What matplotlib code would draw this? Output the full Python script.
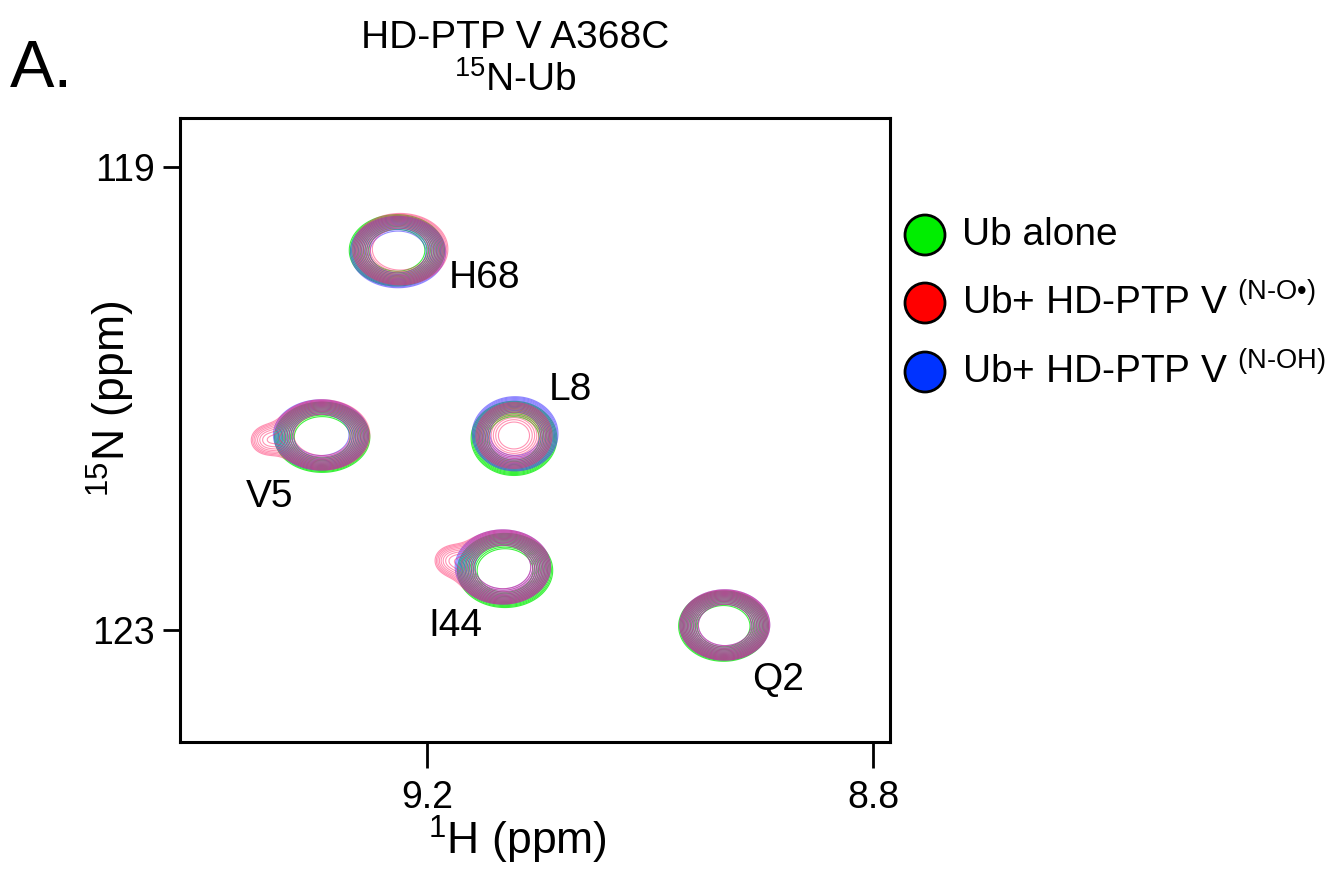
import numpy as np
import matplotlib
matplotlib.use("Agg")
from matplotlib import pyplot as plt
from matplotlib.patches import Circle

plt.rcParams['font.family'] = ['Liberation Sans', 'DejaVu Sans']
plt.rcParams['mathtext.fontset'] = 'custom'
plt.rcParams['mathtext.rm'] = 'Liberation Sans'
plt.rcParams['mathtext.it'] = 'Liberation Sans:italic'
plt.rcParams['mathtext.bf'] = 'Liberation Sans:bold'

# peak positions (1H ppm, 15N ppm)
peak_names = ['Q2', 'V5', 'L8', 'I44', 'H68']
peak_h = [8.933, 9.294, 9.121, 9.132, 9.224]
peak_n = [122.957, 121.315, 121.32, 122.456, 119.72]
width_h = [0.0170, 0.0180, 0.0162, 0.0180, 0.0180]
width_n = [0.128, 0.128, 0.135, 0.135, 0.130]

# small per-spectrum shifts and intensities
green_dh = [0.001, 0.000, 0.001, -0.002, 0.003]
green_dn = [0.010, 0.020, 0.025, 0.030, 0.000]
green_amp = [1.0, 1.0, 1.0, 1.0, 1.0]
blue_dh = [0.000, 0.001, 0.000, 0.000, 0.002]
blue_dn = [0.000, 0.000, -0.015, 0.000, 0.015]
blue_amp = [1.0, 1.0, 1.0, 1.0, 1.0]
red_dh = [0.000, 0.000, 0.001, 0.000, 0.000]
red_dn = [0.000, 0.000, 0.000, 0.000, -0.010]
red_amp = [1.0, 1.0, 0.55, 1.0, 1.0]

# extra weak peaks seen only in the red spectrum
shoulder_h = [9.343, 9.178]
shoulder_n = [121.36, 122.40]
shoulder_amp = [0.14, 0.14]

# label positions
label_h = [8.885, 9.341, 9.071, 9.175, 9.148]
label_n = [123.43, 121.85, 120.93, 122.97, 119.96]

legend_labels = ['Ub alone',
                 'Ub+ HD-PTP V $^{\\text{(N-O•)}}$',
                 'Ub+ HD-PTP V $^{\\text{(N-OH)}}$']
legend_colors = ['#00ee00', '#ff0000', '#0033ff']


def spectrum(hh, nn, dh, dn, amp, extra=None):
    z = np.zeros_like(hh)
    for i in range(len(peak_h)):
        z += amp[i] * np.exp(-0.5 * ((hh - peak_h[i] - dh[i]) / width_h[i]) ** 2
                             - 0.5 * ((nn - peak_n[i] - dn[i]) / width_n[i]) ** 2)
    if extra:
        for h0, n0, a in zip(*extra):
            z += a * np.exp(-0.5 * ((hh - h0) / 0.011) ** 2 - 0.5 * ((nn - n0) / 0.09) ** 2)
    return z


h = np.linspace(8.77, 9.44, 600)
n = np.linspace(118.5, 124.1, 600)
H, N = np.meshgrid(h, n)

levels = np.geomspace(0.06, 0.38, 14)

fig = plt.figure(figsize=(13.38, 8.71), dpi=100)
ax = fig.add_axes([180 / 1338, 1 - 742 / 871, 710 / 1338, 624 / 871])

z_green = spectrum(H, N, green_dh, green_dn, green_amp)
z_blue = spectrum(H, N, blue_dh, blue_dn, blue_amp)
z_red = spectrum(H, N, red_dh, red_dn, red_amp, (shoulder_h, shoulder_n, shoulder_amp))

ax.contour(H, N, z_green, levels=levels, colors=legend_colors[0], linewidths=0.8, alpha=0.75)
ax.contour(H, N, z_blue, levels=levels, colors='#4a3cff', linewidths=0.8, alpha=0.6)
ax.contour(H, N, z_red, levels=levels, colors='#ff2a6a', linewidths=0.8, alpha=0.5)

for name, x, y in zip(peak_names, label_h, label_n):
    ax.text(x, y, name, fontsize=28, ha='center', va='center')

ax.set_xlim(9.4215, 8.7848)
ax.set_ylim(123.968, 118.577)
ax.set_xticks([9.2, 8.8])
ax.set_xticklabels(['9.2', '8.8'])
ax.set_yticks([119, 123])
ax.set_yticklabels(['119', '123'])
ax.tick_params(axis='x', direction='out', length=19, width=2, pad=8, labelsize=27)
ax.tick_params(axis='y', direction='out', length=12, width=2, pad=6, labelsize=27)
for s in ax.spines.values():
    s.set_linewidth(2.2)

ax.set_xlabel('$^{1}$H (ppm)', fontsize=32)
ax.xaxis.set_label_coords(0.475, -0.115)
ax.set_ylabel('$^{15}$N (ppm)', fontsize=32)
ax.yaxis.set_label_coords(-0.06, 0.55)

fig.text(515 / 1338, 1 - 38 / 871, 'HD-PTP V A368C', fontsize=28, ha='center', va='center')
fig.text(515 / 1338, 1 - 80 / 871, '$^{15}$N-Ub', fontsize=28, ha='center', va='center')
fig.text(10 / 1338, 1 - 70 / 871, 'A.', fontsize=48, ha='left', va='center')

# legend drawn by hand: big outlined circles + labels
rows_y = [235, 303, 372]
for lab, col, yy in zip(legend_labels, legend_colors, rows_y):
    fig.add_artist(Circle((9.25, (871 - yy) / 100), 0.2, transform=fig.dpi_scale_trans,
                          facecolor=col, edgecolor='black', linewidth=2))
    fig.text(962 / 1338, 1 - yy / 871, lab, fontsize=28, ha='left', va='center')

fig.savefig('out.png', dpi=100)
